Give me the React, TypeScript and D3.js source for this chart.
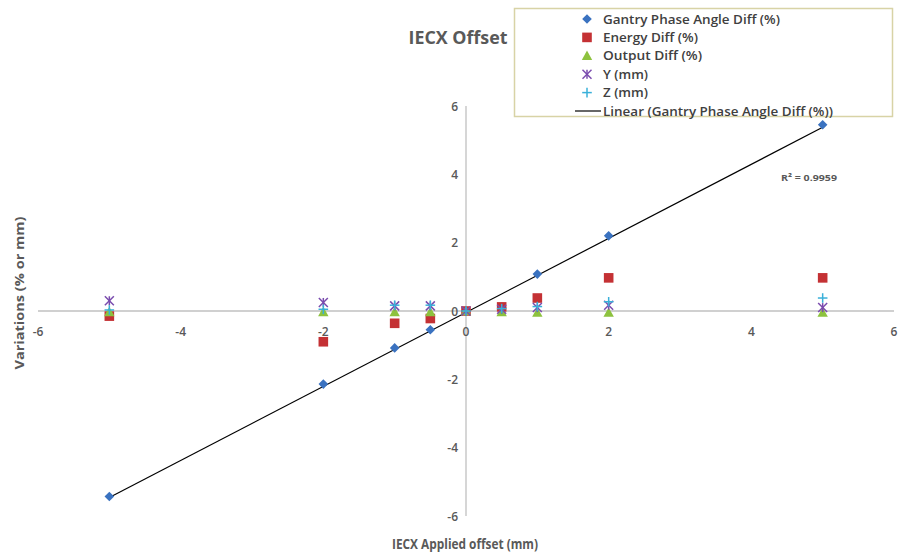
import React from "react";
import * as d3 from "d3";

const xOffsets = [-5, -2, -1, -0.5, 0, 0.5, 1, 2, 5];
const gantryDiff = [-5.43, -2.14, -1.08, -0.55, 0, 0.1, 1.08, 2.2, 5.45];
const energyDiff = [-0.15, -0.9, -0.36, -0.22, 0, 0.12, 0.38, 0.97, 0.97];
const outputDiff = [-0.03, -0.03, -0.03, -0.03, 0, -0.03, -0.05, -0.05, -0.05];
const yMm = [0.3, 0.25, 0.15, 0.15, 0, 0.05, 0.1, 0.17, 0.1];
const zMm = [0.03, 0.05, 0.17, 0.17, 0, 0.07, 0.13, 0.27, 0.38];
const xTicks = [-6, -4, -2, 0, 2, 4, 6];
const yTicks = [-6, -4, -2, 0, 2, 4, 6];
const rSquaredLabel = "R² = 0.9959";

const W = 900;
const H = 553;

const C = {
  blue: "#3a72c0",
  red: "#c43134",
  green: "#8dc23e",
  purple: "#7a4cae",
  cyan: "#3ab0d9",
  axis: "#c0c0c0",
  text: "#595959",
  legendText: "#404040",
};

type Shape = "diamond" | "square" | "triangle" | "asterisk" | "plus";

function Marker({ shape, x, y, color }: { shape: Shape; x: number; y: number; color: string }) {
  if (shape === "diamond") {
    const s = 4.8;
    return <path d={`M${x},${y - s}L${x + s},${y}L${x},${y + s}L${x - s},${y}Z`} fill={color} />;
  }
  if (shape === "square") {
    const s = 4.8;
    return <rect x={x - s} y={y - s} width={2 * s} height={2 * s} fill={color} />;
  }
  if (shape === "triangle") {
    const s = 5.2;
    return <path d={`M${x},${y - s}L${x + s},${y + s * 0.8}L${x - s},${y + s * 0.8}Z`} fill={color} />;
  }
  if (shape === "asterisk") {
    const s = 4.5;
    return (
      <g stroke={color} strokeWidth={1.5}>
        <line x1={x - s} y1={y - s} x2={x + s} y2={y + s} />
        <line x1={x - s} y1={y + s} x2={x + s} y2={y - s} />
        <line x1={x} y1={y - s} x2={x} y2={y + s} />
      </g>
    );
  }
  const s = 4.8;
  return (
    <g stroke={color} strokeWidth={1.5}>
      <line x1={x - s} y1={y} x2={x + s} y2={y} />
      <line x1={x} y1={y - s} x2={x} y2={y + s} />
    </g>
  );
}

export default function App() {
  const x = d3.scaleLinear().domain([-6, 6]).range([38, 894]);
  const y = d3.scaleLinear().domain([-6, 6]).range([516, 106]);

  // linear regression for gantry
  const mx = d3.mean(xOffsets)!;
  const my = d3.mean(gantryDiff)!;
  let num = 0;
  let den = 0;
  xOffsets.forEach((v, i) => {
    num += (v - mx) * (gantryDiff[i] - my);
    den += (v - mx) * (v - mx);
  });
  const slope = num / den;
  const intercept = my - slope * mx;
  const xMin = d3.min(xOffsets)!;
  const xMax = d3.max(xOffsets)!;
  const trend = d3.line<number>().x((v) => x(v)).y((v) => y(slope * v + intercept));

  const series: { name: string; values: number[]; shape: Shape; color: string; w: number }[] = [
    { name: "Gantry Phase Angle Diff (%)", values: gantryDiff, shape: "diamond", color: C.blue, w: 177 },
    { name: "Energy Diff (%)", values: energyDiff, shape: "square", color: C.red, w: 95 },
    { name: "Output Diff (%)", values: outputDiff, shape: "triangle", color: C.green, w: 99 },
    { name: "Y (mm)", values: yMm, shape: "asterisk", color: C.purple, w: 45 },
    { name: "Z (mm)", values: zMm, shape: "plus", color: C.cyan, w: 45 },
  ];

  const font = "'Open Sans', 'DejaVu Sans', sans-serif";

  return (
    <svg
      width={W}
      height={H}
      style={{ position: "absolute", left: 0, top: 0, background: "#fff" }}
      fontFamily={font}
    >
      <rect width={W} height={H} fill="#fff" />
      {/* axes */}
      <line x1={x(-6)} x2={x(6)} y1={y(0)} y2={y(0)} stroke={C.axis} strokeWidth={1.3} />
      <line x1={x(0)} x2={x(0)} y1={y(6)} y2={y(-6)} stroke={C.axis} strokeWidth={1.3} />

      {/* x tick labels */}
      {xTicks.map((t) => (
        <text key={"xt" + t} x={x(t)} y={y(0) + 25} textAnchor="middle" fontSize={12} fontWeight={600} fill={C.text}>
          {t}
        </text>
      ))}
      {/* y tick labels */}
      {yTicks.map((t) => (
        <text key={"yt" + t} x={x(0) - 8} y={y(t) + 4.5} textAnchor="end" fontSize={12} fontWeight={600} fill={C.text}>
          {t}
        </text>
      ))}

      {/* trend line */}
      <path d={trend([xMin, xMax]) || ""} stroke="#000" strokeWidth={1.2} fill="none" />

      {/* series */}
      {series.map((s) => (
        <g key={s.name}>
          {s.values.map((v, i) => (
            <Marker key={i} shape={s.shape} x={x(xOffsets[i])} y={y(v)} color={s.color} />
          ))}
        </g>
      ))}

      {/* R squared */}
      <text x={809} y={181} textAnchor="middle" fontSize={9.5} fontWeight={700} fill={C.text} textLength={56} lengthAdjust="spacingAndGlyphs">
        {rSquaredLabel}
      </text>

      {/* title */}
      <text x={458} y={44} textAnchor="middle" fontSize={17} fontWeight={700} fill={C.text} textLength={99} lengthAdjust="spacingAndGlyphs">
        IECX Offset
      </text>

      {/* axis titles */}
      <text x={465} y={549} textAnchor="middle" fontSize={14} fontWeight={700} fill={C.text} textLength={146} lengthAdjust="spacingAndGlyphs">
        IECX Applied offset (mm)
      </text>
      <text
        transform={`translate(24,${293}) rotate(-90)`}
        textAnchor="middle"
        fontSize={13}
        fontWeight={700}
        fill={C.text}
        textLength={153}
        lengthAdjust="spacingAndGlyphs"
      >
        Variations (% or mm)
      </text>

      {/* legend */}
      <rect x={514.5} y={8.5} width={378} height={108} fill="#fff" stroke="#d8d3a6" strokeWidth={1.5} />
      {series.map((s, i) => {
        const ly = 19 + i * 18.4;
        return (
          <g key={"lg" + s.name}>
            <Marker shape={s.shape} x={587} y={ly} color={s.color} />
            <text x={603} y={ly + 4.5} fontSize={12.5} fontWeight={600} fill={C.legendText} textLength={s.w} lengthAdjust="spacingAndGlyphs">
              {s.name}
            </text>
          </g>
        );
      })}
      <line x1={575} x2={601} y1={19 + 5 * 18.4} y2={19 + 5 * 18.4} stroke="#000" strokeWidth={1.2} />
      <text x={603} y={19 + 5 * 18.4 + 4.5} fontSize={12.5} fontWeight={600} fill={C.legendText} textLength={230} lengthAdjust="spacingAndGlyphs">
        Linear (Gantry Phase Angle Diff (%))
      </text>
    </svg>
  );
}
